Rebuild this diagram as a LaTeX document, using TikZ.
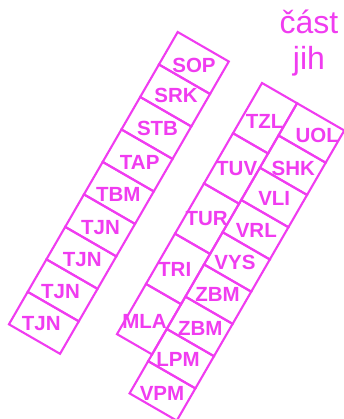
\documentclass[tikz,border=0pt]{standalone}
\usepackage{fontspec}
\setmainfont{Liberation Sans}
\definecolor{planpink}{HTML}{F03CF0}

\begin{document}
\begin{tikzpicture}[
            x=1pt, y=-1pt,
            cell/.style={draw=planpink, line width=2.1pt},
            tag/.style={text=planpink, inner sep=0pt, font=\fontsize{20.5}{24}\selectfont\bfseries},
            title/.style={text=planpink, inner sep=0pt, align=center, font=\fontsize{32}{35.7}\selectfont}
        ]
            \useasboundingbox (0,0) rectangle (344,419);

            % strips, drawn in the tilted frame
            \begin{scope}[shift={(262,83)}, rotate=-30]
                % left strip
                \draw[cell] (-98.5,-2) rectangle (-39.5,35.5);
                \draw[cell] (-98.5,35.5) rectangle (-39.5,73);
                \draw[cell] (-98.5,73) rectangle (-39.5,110.5);
                \draw[cell] (-98.5,110.5) rectangle (-39.5,148);
                \draw[cell] (-98.5,148) rectangle (-39.5,185.5);
                \draw[cell] (-98.5,185.5) rectangle (-39.5,223);
                \draw[cell] (-98.5,223) rectangle (-39.5,260.5);
                \draw[cell] (-98.5,260.5) rectangle (-39.5,298);
                \draw[cell] (-98.5,298) rectangle (-39.5,335.5);

                % right strip, inner column
                \draw[cell] (0,0) rectangle (40.5,58);
                \draw[cell] (0,58) rectangle (40.5,116);
                \draw[cell] (0,116) rectangle (40.5,174);
                \draw[cell] (0,174) rectangle (40.5,232);
                \draw[cell] (0,232) rectangle (40.5,290);

                % right strip, outer column
                \draw[cell] (40.5,0) rectangle (95,37.2);
                \draw[cell] (40.5,37.2) rectangle (95,74.4);
                \draw[cell] (40.5,74.4) rectangle (95,111.7);
                \draw[cell] (40.5,111.7) rectangle (95,148.9);
                \draw[cell] (40.5,148.9) rectangle (95,186.1);
                \draw[cell] (40.5,186.1) rectangle (95,223.3);
                \draw[cell] (40.5,223.3) rectangle (95,260.6);
                \draw[cell] (40.5,260.6) rectangle (95,297.8);
                \draw[cell] (40.5,297.8) rectangle (95,335);
            \end{scope}

            % left strip labels
            \node[tag] (sop) at (194,65.5) {SOP};
            \node[tag] (srk) at (176,95) {SRK};
            \node[tag] (stb) at (157.5,128.3) {STB};
            \node[tag] (tap) at (139.7,162.5) {TAP};
            \node[tag] (tbm) at (118.3,194) {TBM};
            \node[tag] (tjna) at (100.5,227.5) {TJN};
            \node[tag] (tjnb) at (82.2,259.5) {TJN};
            \node[tag] (tjnc) at (60.5,291.3) {TJN};
            \node[tag] (tjnd) at (41.2,323.8) {TJN};

            % right strip labels
            \node[tag] (tzl) at (264.7,121.7) {TZL};
            \node[tag] (tuv) at (236.7,168.7) {TUV};
            \node[tag] (tur) at (206.7,218.3) {TUR};
            \node[tag] (tri) at (174.7,269) {TRI};
            \node[tag] (mla) at (144.5,321.7) {MLA};
            \node[tag] (uol) at (317.2,135) {UOL};
            \node[tag] (shk) at (293.3,168) {SHK};
            \node[tag] (vli) at (274.2,198.7) {VLI};
            \node[tag] (vrl) at (256.3,230) {VRL};
            \node[tag] (vys) at (235,262.5) {VYS};
            \node[tag] (zbma) at (217.5,294.5) {ZBM};
            \node[tag] (zbmb) at (200.2,328) {ZBM};
            \node[tag] (lpm) at (178,359.7) {LPM};
            \node[tag] (vpm) at (162,393.3) {VPM};

            \node[title, anchor=north] (part) at (309,10) {část\\jih};
        \end{tikzpicture}
\end{document}
